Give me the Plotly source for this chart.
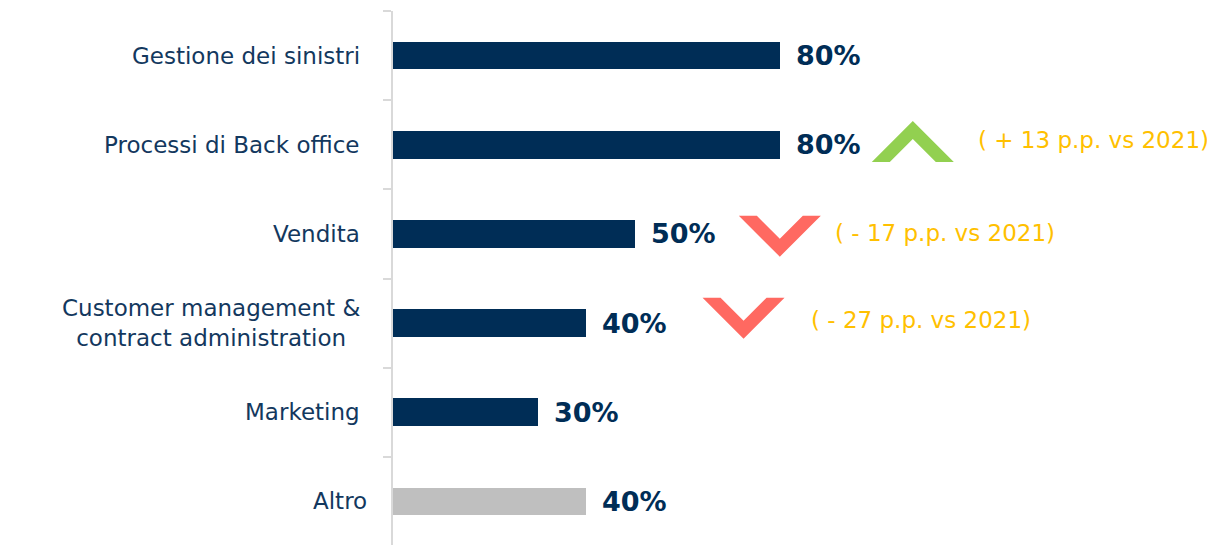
import plotly.graph_objects as go

categories = ["Gestione dei sinistri", "Processi di Back office", "Vendita",
              "Customer management &<br>contract administration", "Marketing", "Altro"]
values = [80, 80, 50, 40, 30, 40]
bar_colors = ["#002D56", "#002D56", "#002D56", "#002D56", "#002D56", "#BFBFBF"]
value_labels = ["80%", "80%", "50%", "40%", "30%", "40%"]

# change vs 2021 (index of category, direction, text)
change_idx = [1, 2, 3]
change_dir = ["up", "down", "down"]
change_text = ["( + 13 p.p. vs 2021)", "( - 17 p.p. vs 2021)", "( - 27 p.p. vs 2021)"]
chevron_x = [107.5, 80.0, 72.5]        # data x of chevron centres
chevron_dy = [-0.03, 0.02, -0.06]      # offset from category centre (category units)
change_text_x = [120.5, 91.0, 86.0]    # data x where the text starts
change_text_dy = [-0.05, -0.01, -0.03]

NAVY = "#002D56"
GOLD = "#FFC000"
FONT = "DejaVu Sans"

XMAX = 170
BODY = 8            # default page margin of the html body
L = 393 - BODY
W = 1215 - BODY
H = 546 - BODY
T = 11 - BODY
px_per_x = (W - L) / XMAX
px_per_cat = (H - T) / len(categories)

fig = go.Figure()
fig.add_trace(go.Bar(
    y=list(range(len(categories))), x=values, orientation="h",
    marker=dict(color=bar_colors, line=dict(width=0)),
    width=0.31, hoverinfo="skip", showlegend=False,
))

annotations = []
for i, (v, lab) in enumerate(zip(values, value_labels)):
    annotations.append(dict(x=v, y=i, xref="x", yref="y", text=f"<b>{lab}</b>",
                            xanchor="left", yanchor="middle", xshift=14, showarrow=False,
                            font=dict(family=FONT, size=27, color=NAVY)))
for i, cat in enumerate(categories):
    annotations.append(dict(x=0, y=i, xref="x", yref="y", text=cat, align="center",
                            xanchor="right", yanchor="middle", xshift=-31 if i != 5 else -24,
                            showarrow=False,
                            font=dict(family=FONT, size=23, color="#13385E")))
for k, idx in enumerate(change_idx):
    annotations.append(dict(x=change_text_x[k], y=idx + change_text_dy[k], xref="x", yref="y",
                            text=change_text[k], xanchor="left", yanchor="middle",
                            showarrow=False, font=dict(family=FONT, size=23, color=GOLD)))

shapes = []
# chevron polygon in pixel offsets (up-pointing)
chev = [(0, -21), (41, 20), (23, 20), (0, -3), (-23, 20), (-41, 20)]
for k, idx in enumerate(change_idx):
    cx = chevron_x[k]
    cy = idx + chevron_dy[k]
    sgn = 1 if change_dir[k] == "up" else -1
    pts = [(cx + dx / px_per_x, cy + sgn * dy / px_per_cat) for dx, dy in chev]
    path = "M " + " L ".join(f"{x:.3f},{y:.4f}" for x, y in pts) + " Z"
    color = "#92D050" if change_dir[k] == "up" else "#FF6961"
    shapes.append(dict(type="path", path=path, xref="x", yref="y",
                       fillcolor=color, line=dict(width=0), layer="above"))

fig.update_layout(
    width=W, height=H,
    margin=dict(l=L, r=0, t=T, b=0),
    paper_bgcolor="white", plot_bgcolor="white",
    annotations=annotations, shapes=shapes,
    bargap=0,
)
fig.update_xaxes(range=[0, XMAX], visible=False, fixedrange=True)
fig.update_yaxes(range=[len(categories) - 0.5, -0.5],
                 showticklabels=False,
                 tickmode="array", tickvals=[i + 0.5 for i in range(-1, len(categories))],
                 ticks="outside", ticklen=8, tickcolor="#D9D9D9", tickwidth=2,
                 showline=True, linecolor="#D9D9D9", linewidth=2,
                 showgrid=False, zeroline=False, fixedrange=True)

fig.write_html("out.html")
